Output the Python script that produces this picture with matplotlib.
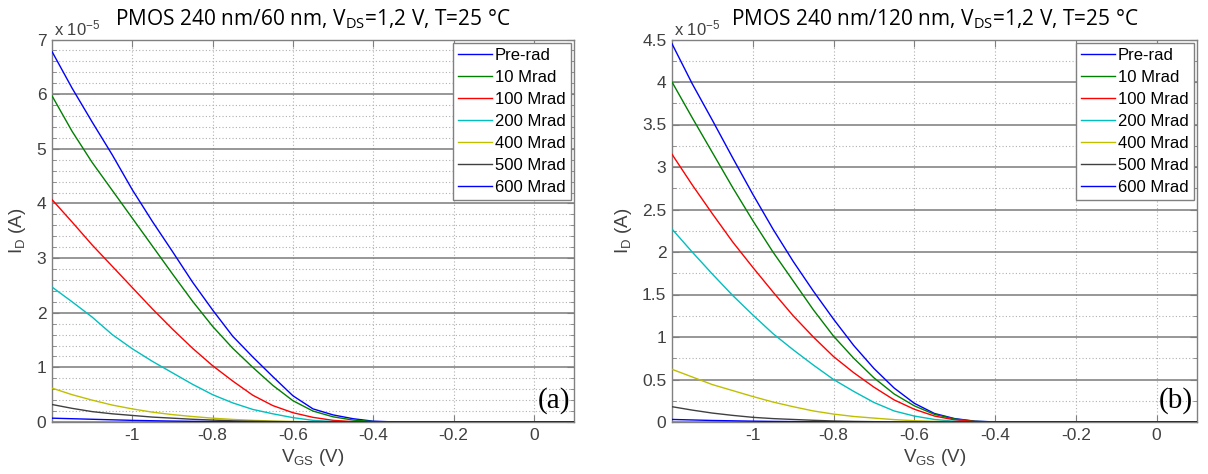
import matplotlib
matplotlib.use("Agg")
import matplotlib.pyplot as plt
from matplotlib.ticker import MultipleLocator

plt.rcParams['font.family'] = ['Liberation Sans', 'DejaVu Sans']
plt.rcParams['mathtext.default'] = 'regular'

# gate voltage grid (V), shared by every curve
vgs = [-1.2, -1.15, -1.1, -1.05, -1.0, -0.95, -0.9, -0.85, -0.8, -0.75,
       -0.7, -0.65, -0.6, -0.55, -0.5, -0.45, -0.4, -0.35, -0.3, 0.1]

labels = ['Pre-rad', '10 Mrad', '100 Mrad', '200 Mrad', '400 Mrad', '500 Mrad', '600 Mrad']
colors = ['#0000ff', '#008000', '#ff0000', '#00bfbf', '#bfbf00', '#404040', '#0000ff']

# drain current, units of 1e-5 A -- PMOS 240nm/60nm
id_60 = [
    [6.78, 6.11, 5.49, 4.89, 4.25, 3.67, 3.12, 2.56, 2.05, 1.57, 1.19, 0.83, 0.48, 0.24, 0.13, 0.06, 0.015, 0.002, 0, 0],
    [5.97, 5.32, 4.75, 4.24, 3.73, 3.22, 2.71, 2.21, 1.75, 1.35, 1.0, 0.67, 0.39, 0.20, 0.095, 0.035, 0.008, 0.001, 0, 0],
    [4.07, 3.66, 3.24, 2.85, 2.46, 2.07, 1.70, 1.35, 1.03, 0.75, 0.49, 0.30, 0.17, 0.085, 0.03, 0.006, 0, 0, 0, 0],
    [2.47, 2.20, 1.92, 1.60, 1.34, 1.11, 0.90, 0.69, 0.50, 0.35, 0.23, 0.15, 0.08, 0.03, 0.008, 0, 0, 0, 0, 0],
    [0.62, 0.50, 0.40, 0.31, 0.24, 0.18, 0.135, 0.10, 0.07, 0.047, 0.03, 0.018, 0.01, 0.004, 0.001, 0, 0, 0, 0, 0],
    [0.32, 0.25, 0.19, 0.15, 0.12, 0.09, 0.07, 0.05, 0.035, 0.022, 0.014, 0.008, 0.004, 0.001, 0, 0, 0, 0, 0, 0],
    [0.07, 0.06, 0.05, 0.04, 0.03, 0.023, 0.017, 0.012, 0.008, 0.005, 0.003, 0.002, 0.001, 0, 0, 0, 0, 0, 0, 0],
]

# PMOS 240nm/120nm
id_120 = [
    [4.45, 3.98, 3.55, 3.11, 2.68, 2.27, 1.89, 1.54, 1.21, 0.90, 0.63, 0.40, 0.22, 0.10, 0.04, 0.01, 0.001, 0, 0, 0],
    [4.0, 3.58, 3.17, 2.76, 2.37, 2.0, 1.66, 1.32, 1.01, 0.75, 0.52, 0.33, 0.19, 0.09, 0.035, 0.008, 0, 0, 0, 0],
    [3.15, 2.79, 2.45, 2.12, 1.82, 1.53, 1.25, 1.00, 0.77, 0.58, 0.41, 0.26, 0.15, 0.07, 0.025, 0.005, 0, 0, 0, 0],
    [2.27, 2.00, 1.74, 1.49, 1.26, 1.04, 0.85, 0.67, 0.50, 0.36, 0.23, 0.13, 0.07, 0.03, 0.008, 0.001, 0, 0, 0, 0],
    [0.62, 0.53, 0.44, 0.37, 0.30, 0.235, 0.18, 0.13, 0.093, 0.065, 0.046, 0.028, 0.015, 0.007, 0.003, 0.001, 0, 0, 0, 0],
    [0.18, 0.14, 0.105, 0.078, 0.055, 0.04, 0.03, 0.02, 0.012, 0.007, 0.004, 0.002, 0.001, 0, 0, 0, 0, 0, 0, 0],
    [0.03, 0.024, 0.018, 0.014, 0.01, 0.007, 0.005, 0.003, 0.002, 0.0015, 0.001, 0, 0, 0, 0, 0, 0, 0, 0, 0],
]

xticks = [-1, -0.8, -0.6, -0.4, -0.2, 0]
xtick_labels = ['-1', '-0.8', '-0.6', '-0.4', '-0.2', '0']

W, H = 1208, 474
fig = plt.figure(figsize=(W / 100, H / 100), dpi=100)
ax1 = fig.add_axes([52 / W, 52 / H, 522 / W, 382.5 / H])
ax2 = fig.add_axes([672 / W, 52 / H, 525 / W, 382.5 / H])

tick_col = '#404040'


def panel(ax, data, ytop, ymaj, ymin, title, letter):
    for i in range(len(labels)):
        ax.plot(vgs, data[i], color=colors[i], lw=1.0, label=labels[i], zorder=3)
    ax.set_xlim(-1.2, 0.1)
    ax.set_ylim(0, ytop)
    ax.set_xticks(xticks)
    ax.set_xticklabels(xtick_labels)
    ax.yaxis.set_major_locator(MultipleLocator(ymaj))
    ax.yaxis.set_minor_locator(MultipleLocator(ymin))
    ax.yaxis.set_major_formatter(matplotlib.ticker.FuncFormatter(lambda v, p: '%g' % v))
    ax.yaxis.grid(True, which='major', color='#7a7a7a', lw=1.1, ls='-')
    ax.yaxis.grid(True, which='minor', color='#b0b0b0', lw=0.8, ls=(0, (1, 2)))
    ax.xaxis.grid(True, which='major', color='#b0b0b0', lw=0.8, ls=(0, (1, 2)))
    ax.set_axisbelow(True)
    ax.tick_params(which='both', direction='in', top=True, right=True,
                   colors='#808080', labelcolor=tick_col, labelsize=12.5)
    ax.tick_params(which='major', length=5, pad=4)
    ax.tick_params(which='minor', length=3)
    for s in ax.spines.values():
        s.set_color('#808080')
        s.set_linewidth(1.0)
    ax.set_xlabel('V$_{GS}$ (V)', fontsize=13.5, color=tick_col, labelpad=3)
    ax.set_ylabel('I$_{D}$ (A)', fontsize=13.5, color=tick_col, labelpad=6)
    ax.set_title(title, fontsize=15, family=['Open Sans', 'DejaVu Sans'], pad=10)
    ax.text(0.003, 1.002, 'x 10$^{-5}$', transform=ax.transAxes, ha='left', va='bottom',
            fontsize=12, color=tick_col)
    ax.text(0.992, 0.02, letter, transform=ax.transAxes, ha='right', va='bottom',
            fontsize=21, family=['Liberation Serif', 'DejaVu Serif'], zorder=5)
    leg = ax.legend(loc='upper right', fontsize=12, fancybox=False, framealpha=1,
                    edgecolor='#808080', borderaxespad=0.2, labelspacing=0.42,
                    handlelength=2.0, handletextpad=0.2, borderpad=0.3)
    leg.get_frame().set_linewidth(1.0)


panel(ax1, id_60, 7, 1, 0.2, 'PMOS 240 nm/60 nm, V$_{DS}$=1,2 V, T=25 °C', '(a)')
panel(ax2, id_120, 4.5, 0.5, 0.25, 'PMOS 240 nm/120 nm, V$_{DS}$=1,2 V, T=25 °C', '(b)')

fig.savefig('out.png', dpi=100)
